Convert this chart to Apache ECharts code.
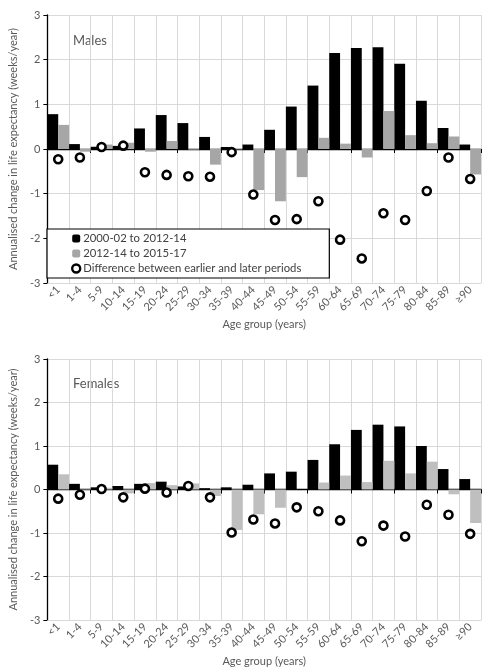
<!DOCTYPE html>
<html><head><meta charset="utf-8">
<script src="https://cdn.jsdelivr.net/npm/echarts@6/dist/echarts.min.js"></script>
<style>html,body{margin:0;padding:0;background:#fff}#c{width:488px;height:672px}</style>
</head><body><div id="c"></div>
<script>
const ageGroups = ['<1','1-4','5-9','10-14','15-19','20-24','25-29','30-34','35-39','40-44','45-49','50-54','55-59','60-64','65-69','70-74','75-79','80-84','85-89','≥90'];
const yTicks = [-3,-2,-1,0,1,2,3];
const seriesNames = ['2000-02 to 2012-14','2012-14 to 2015-17','Difference between earlier and later periods'];

const malesEarly = [0.78,0.11,0.05,0.07,0.46,0.76,0.58,0.27,0.045,0.10,0.43,0.95,1.42,2.15,2.26,2.28,1.91,1.08,0.47,0.10];
const malesLate  = [0.54,-0.06,0.10,0.14,-0.06,0.18,-0.015,-0.35,-0.01,-0.92,-1.17,-0.63,0.25,0.12,-0.19,0.85,0.31,0.13,0.28,-0.57];
const malesDiff  = [-0.23,-0.19,0.045,0.075,-0.52,-0.58,-0.61,-0.62,-0.07,-1.02,-1.59,-1.57,-1.17,-2.03,-2.45,-1.44,-1.59,-0.94,-0.19,-0.67];

const femalesEarly = [0.57,0.13,0.05,0.08,0.13,0.18,0.07,0.03,0.05,0.11,0.37,0.41,0.68,1.04,1.37,1.49,1.45,1.00,0.47,0.24];
const femalesLate  = [0.35,0.015,0.04,-0.09,0.15,0.10,0.14,-0.15,-0.93,-0.57,-0.42,0.0,0.16,0.32,0.17,0.66,0.37,0.64,-0.11,-0.77];
const femalesDiff  = [-0.21,-0.12,0.01,-0.18,0.02,-0.07,0.08,-0.18,-0.99,-0.69,-0.78,-0.41,-0.50,-0.71,-1.19,-0.83,-1.08,-0.35,-0.58,-1.02];

const FONT = 'Lato';
const TXT = '#595959';
const GRIDC = '#d9d9d9';

function xAxes(g){
  return [{
    gridIndex:g, type:'category', data:ageGroups, position:'bottom',
    axisLine:{show:true,onZero:false,lineStyle:{color:GRIDC,width:1}},
    axisTick:{show:false},
    splitLine:{show:true,lineStyle:{color:GRIDC,width:1}},
    axisLabel:{rotate:45,interval:0,hideOverlap:false,fontFamily:FONT,fontSize:11,color:TXT,margin:5},
    name:'Age group (years)', nameLocation:'middle', nameGap:36,
    nameTextStyle:{fontFamily:FONT,fontSize:11,color:TXT}
  },{
    gridIndex:g, type:'category', data:ageGroups, position:'bottom',
    axisLine:{show:true,onZero:true,lineStyle:{color:'#000',width:1.3}},
    axisTick:{show:true,length:4,lineStyle:{color:'#000',width:1}},
    axisLabel:{show:false}, splitLine:{show:false}
  }];
}
function yAxis(g){
  return {
    gridIndex:g, type:'value', min:-3, max:3, interval:1,
    axisLine:{show:true,lineStyle:{color:'#000',width:1.3}},
    axisTick:{show:true,length:4,lineStyle:{color:'#000'}},
    splitLine:{show:true,lineStyle:{color:GRIDC,width:1}},
    axisLabel:{fontFamily:FONT,fontSize:11,color:TXT,margin:7,
      customValues: yTicks},
    name:'Annualised change in life expectancy (weeks/year)', nameLocation:'middle', nameGap:28,
    nameTextStyle:{fontFamily:FONT,fontSize:11,color:TXT}
  };
}
function seriesFor(g, early, late, diff, grey){
  return [
    {name:seriesNames[0], type:'bar', xAxisIndex:2*g, yAxisIndex:g, data:early,
      itemStyle:{color:'#000'}, barGap:'0%', barCategoryGap:'0%', silent:true},
    {name:seriesNames[1], type:'bar', xAxisIndex:2*g, yAxisIndex:g, data:late,
      itemStyle:{color:grey}, barGap:'0%', barCategoryGap:'0%', silent:true},
    {name:seriesNames[2], type:'scatter', xAxisIndex:2*g, yAxisIndex:g, data:diff,
      symbol:'circle', symbolSize:8, z:5,
      itemStyle:{color:'#fff',borderColor:'#000',borderWidth:2.6,opacity:1}, silent:true}
  ];
}

const chart = echarts.init(document.getElementById('c'), null, {renderer:'canvas'});
chart.setOption({
  animation:false,
  backgroundColor:'#fff',
  grid:[
    {left:47,right:7,top:15,height:268},
    {left:47,right:7,top:359,height:261}
  ],
  xAxis:[...xAxes(0), ...xAxes(1)],
  yAxis:[yAxis(0), yAxis(1)],
  legend:{
    data:[seriesNames[0], seriesNames[1],
      {name:seriesNames[2], itemStyle:{color:'#fff',borderColor:'#000',borderWidth:2.4}}],
    orient:'vertical', left:47, top:229,
    padding:[4,28,4,24], itemGap:4, itemWidth:8, itemHeight:8,
    borderColor:'#000', borderWidth:1.2, backgroundColor:'#fff',
    textStyle:{fontFamily:FONT,fontSize:11.3,color:'#404040',padding:[0,0,0,-2]},
    selectedMode:false, z:10
  },
  graphic:[
    {type:'text', left:73, top:34, style:{text:'Males', font:'13px '+FONT, fill:TXT}},
    {type:'text', left:73, top:377, style:{text:'Females', font:'13px '+FONT, fill:TXT}}
  ],
  series:[
    ...seriesFor(0, malesEarly, malesLate, malesDiff, '#a6a6a6'),
    ...seriesFor(1, femalesEarly, femalesLate, femalesDiff, '#bfbfbf')
  ]
});
</script></body></html>
